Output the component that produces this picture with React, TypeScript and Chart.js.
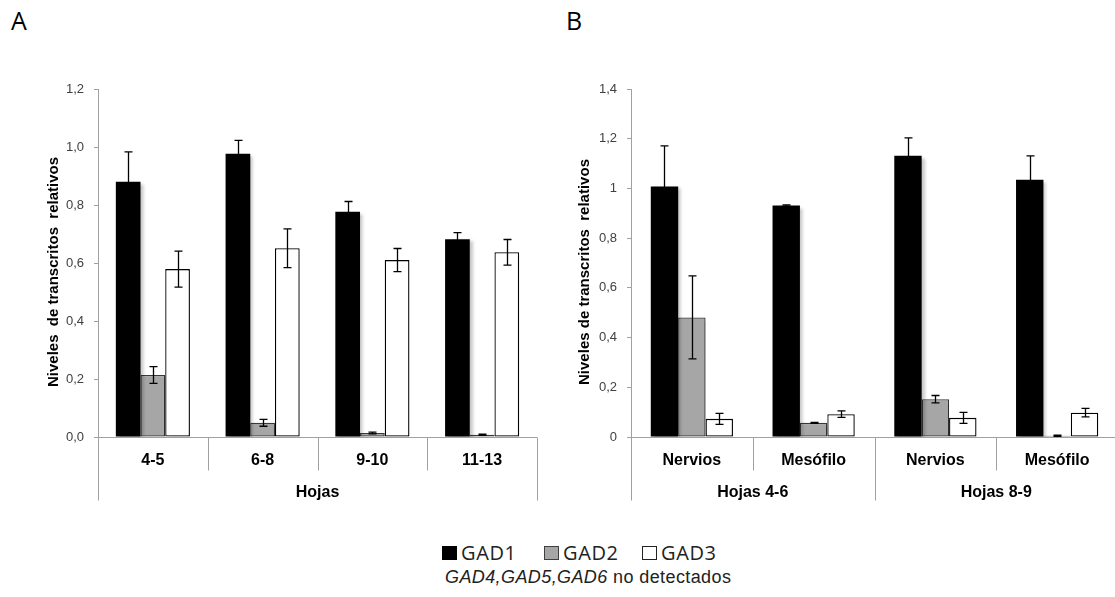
import React, { useEffect, useRef } from 'react';
import { Chart, registerables } from 'chart.js';

Chart.register(...registerables);

// ---------- DATA ----------
const seriesNames = ['GAD1', 'GAD2', 'GAD3'];
const seriesColors = ['#000000', '#a6a6a6', '#ffffff'];
const seriesBorders = ['#000000', '#3a3a3a', '#000000'];

// Panel A
const leftCategories = ['4-5', '6-8', '9-10', '11-13'];
const leftGroupLabels = ['Hojas'];
const leftGroupSpans = [4];
const leftGAD1 = [0.88, 0.977, 0.777, 0.682];
const leftGAD2 = [0.214, 0.049, 0.014, 0.008];
const leftGAD3 = [0.579, 0.651, 0.61, 0.637];
const leftGAD1Err = [0.103, 0.046, 0.035, 0.023];
const leftGAD2Err = [0.029, 0.012, 0.003, 0.002];
const leftGAD3Err = [0.062, 0.067, 0.04, 0.044];
const leftMax = 1.2;

// Panel B
const rightCategories = ['Nervios', 'Mesófilo', 'Nervios', 'Mesófilo'];
const rightGroupLabels = ['Hojas 4-6', 'Hojas 8-9'];
const rightGroupSpans = [2, 2];
const rightGAD1 = [1.008, 0.931, 1.131, 1.035];
const rightGAD2 = [0.481, 0.057, 0.152, 0.005];
const rightGAD3 = [0.073, 0.092, 0.077, 0.098];
const rightGAD1Err = [0.163, 0.003, 0.072, 0.096];
const rightGAD2Err = [0.167, 0.002, 0.015, 0.002];
const rightGAD3Err = [0.022, 0.013, 0.022, 0.017];
const rightMax = 1.4;

const FONT = '"Liberation Sans", Arial, sans-serif';

type PanelProps = {
  left: number;
  top: number;
  width: number;
  height: number;
  yAxisWidth: number;
  padRight: number;
  categories: string[];
  groupLabels: string[];
  groupSpans: number[];
  values: number[][];
  errors: number[][];
  yMax: number;
  tickFormat: (v: number) => string;
  title: string;
  titleX: number;
  titleY: number;
};

function ChartPanel(p: PanelProps) {
  const ref = useRef<HTMLCanvasElement | null>(null);

  useEffect(() => {
    if (!ref.current) return;

    const axisPlugin = {
      id: 'hierAxis',
      beforeDatasetsDraw(chart: any) {
        const { ctx, chartArea } = chart;
        const yS = chart.scales.y;
        const y0 = Math.round(yS.getPixelForValue(0)) + 0.5;
        const n = p.categories.length;
        const w = (chartArea.right - chartArea.left) / n;
        const longSet = new Set<number>([0]);
        let acc = 0;
        p.groupSpans.forEach((s) => {
          acc += s;
          longSet.add(acc);
        });
        ctx.save();
        ctx.strokeStyle = '#a0a0a0';
        ctx.lineWidth = 1;
        ctx.beginPath();
        ctx.moveTo(chartArea.left, y0);
        ctx.lineTo(chartArea.right, y0);
        for (let i = 0; i <= n; i++) {
          const x = Math.round(chartArea.left + i * w) + 0.5;
          ctx.moveTo(x, y0);
          ctx.lineTo(x, y0 + (longSet.has(i) ? 63 : 33));
        }
        ctx.stroke();
        ctx.fillStyle = '#000';
        ctx.font = `bold 16px ${FONT}`;
        ctx.textAlign = 'center';
        ctx.textBaseline = 'middle';
        p.categories.forEach((c, i) => {
          ctx.fillText(c, chartArea.left + (i + 0.5) * w, y0 + 23);
        });
        let start = 0;
        p.groupLabels.forEach((g, gi) => {
          const span = p.groupSpans[gi];
          const cx = chartArea.left + (start + span / 2) * w;
          ctx.fillText(g, cx, y0 + 55);
          start += span;
        });
        // y title
        ctx.save();
        ctx.translate(p.titleX, p.titleY);
        ctx.rotate(-Math.PI / 2);
        ctx.font = `bold 15px ${FONT}`;
        ctx.fillText(p.title, 0, 0);
        ctx.restore();
        ctx.restore();
        // bar shadow
        ctx.save();
        ctx.shadowColor = 'rgba(0,0,0,0.22)';
        ctx.shadowOffsetX = 3;
        ctx.shadowOffsetY = 2;
        ctx.shadowBlur = 3;
      },
      afterDatasetsDraw(chart: any) {
        const { ctx } = chart;
        ctx.restore();
        const yS = chart.scales.y;
        ctx.save();
        ctx.strokeStyle = '#000';
        ctx.lineWidth = 1.3;
        p.values.forEach((vals, di) => {
          const meta = chart.getDatasetMeta(di);
          vals.forEach((v, i) => {
            const e = p.errors[di][i];
            const el = meta.data[i];
            const x = Math.round(el.x) + 0.5;
            const yt = yS.getPixelForValue(v + e);
            const yb = yS.getPixelForValue(Math.max(v - e, 0));
            ctx.beginPath();
            ctx.moveTo(x, yt);
            ctx.lineTo(x, yb);
            ctx.moveTo(x - 4, yt);
            ctx.lineTo(x + 4, yt);
            ctx.moveTo(x - 4, yb);
            ctx.lineTo(x + 4, yb);
            ctx.stroke();
          });
        });
        ctx.restore();
      },
    };

    const chart = new Chart(ref.current, {
      type: 'bar',
      data: {
        labels: p.categories,
        datasets: p.values.map((vals, di) => ({
          label: seriesNames[di],
          data: vals,
          backgroundColor: seriesColors[di],
          borderColor: seriesBorders[di],
          borderWidth: di === 0 ? 0 : 1.3,
          borderSkipped: false,
          categoryPercentage: 0.675,
          barPercentage: 1,
        })),
      },
      options: {
        animation: false,
        responsive: false,
        maintainAspectRatio: false,
        layout: { padding: { left: 0, top: 29, right: p.padRight, bottom: 83 } },
        plugins: {
          legend: { display: false },
          tooltip: { enabled: false },
        },
        scales: {
          x: { display: false },
          y: {
            min: 0,
            max: p.yMax,
            ticks: {
              stepSize: 0.2,
              padding: 10,
              color: '#404040',
              font: { family: FONT, size: 13 },
              callback: (v: any) => p.tickFormat(Number(v)),
            },
            grid: {
              drawOnChartArea: false,
              drawTicks: true,
              tickLength: 4,
              color: '#a0a0a0',
            },
            border: { color: '#a0a0a0' },
            afterFit: (s: any) => {
              s.width = p.yAxisWidth;
            },
          },
        },
      },
      plugins: [axisPlugin],
    } as any);

    return () => chart.destroy();
  }, []);

  return (
    <canvas
      ref={ref}
      width={p.width}
      height={p.height}
      style={{ position: 'absolute', left: p.left, top: p.top, width: p.width, height: p.height }}
    />
  );
}

export default function App() {
  const legendText: React.CSSProperties = {
    fontFamily: '"Open Sans", sans-serif',
    fontSize: 20,
    letterSpacing: 0.6,
    color: '#222',
    lineHeight: '26px',
  };
  const item = (left: number, fill: string, border: string, label: string) => (
    <div
      style={{ position: 'absolute', left, top: 540, height: 26, display: 'flex', alignItems: 'center' }}
    >
      <div
        style={{
          width: 13,
          height: 12,
          background: fill,
          border: `1.5px solid ${border}`,
          marginRight: 4,
        }}
      />
      <span style={legendText}>{label}</span>
    </div>
  );

  return (
    <div
      style={{
        position: 'absolute',
        left: 0,
        top: 0,
        width: 1115,
        height: 597,
        overflow: 'hidden',
        background: '#fff',
      }}
    >
      <div style={{ position: 'absolute', left: 11, top: 3, fontFamily: '"Open Sans", sans-serif', fontSize: 25, color: '#000' }}>A</div>
      <div style={{ position: 'absolute', left: 566, top: 3, fontFamily: '"Open Sans", sans-serif', fontSize: 25, color: '#000' }}>B</div>

      <ChartPanel
        left={0}
        top={60}
        width={560}
        height={460}
        yAxisWidth={98}
        padRight={23}
        categories={leftCategories}
        groupLabels={leftGroupLabels}
        groupSpans={leftGroupSpans}
        values={[leftGAD1, leftGAD2, leftGAD3]}
        errors={[leftGAD1Err, leftGAD2Err, leftGAD3Err]}
        yMax={leftMax}
        tickFormat={(v) => v.toFixed(1).replace('.', ',')}
        title="Niveles  de transcritos  relativos"
        titleX={54}
        titleY={212}
      />
      <ChartPanel
        left={560}
        top={60}
        width={580}
        height={460}
        yAxisWidth={71}
        padRight={22}
        categories={rightCategories}
        groupLabels={rightGroupLabels}
        groupSpans={rightGroupSpans}
        values={[rightGAD1, rightGAD2, rightGAD3]}
        errors={[rightGAD1Err, rightGAD2Err, rightGAD3Err]}
        yMax={rightMax}
        tickFormat={(v) => String(Number(v.toFixed(1))).replace('.', ',')}
        title="Niveles de transcritos  relativos"
        titleX={25}
        titleY={212}
      />

      {item(442, '#000', '#000', seriesNames[0])}
      {item(544, '#a6a6a6', '#404040', seriesNames[1])}
      {item(642, '#fff', '#222', seriesNames[2])}

      <div
        style={{
          position: 'absolute',
          left: 445,
          top: 567,
          fontFamily: FONT,
          fontSize: 18,
          letterSpacing: 0.4,
          color: '#222',
          whiteSpace: 'nowrap',
        }}
      >
        <i>GAD4,GAD5,GAD6</i> no detectados
      </div>
    </div>
  );
}
